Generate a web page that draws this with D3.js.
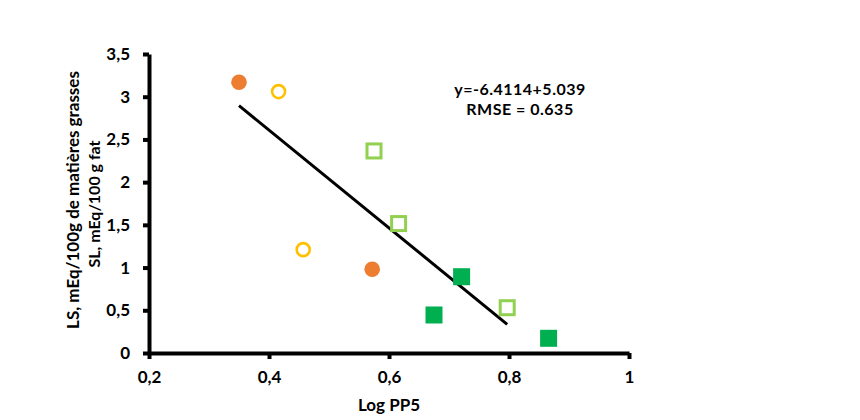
<!DOCTYPE html>
<html>
<head>
<meta charset="utf-8">
<script src="https://cdn.jsdelivr.net/npm/d3@7"></script>
<style>
  body { margin: 0; background: #fff; }
  svg { font-family: Lato, "Open Sans", sans-serif; font-weight: bold; }
</style>
</head>
<body>
<svg id="chart" width="860" height="420"></svg>
<script>
// points: [logPP5, SL]
const orangeFilled = [[0.350, 3.17], [0.572, 0.98]]
const yellowOpen = [[0.416, 3.06], [0.457, 1.21]]
const greenOpen = [[0.575, 2.365], [0.616, 1.515], [0.797, 0.53]]
const greenFilled = [[0.721, 0.893], [0.675, 0.445], [0.866, 0.172]]
const fitLine = [[0.350, 2.895], [0.797, 0.336]]

const xTicks = [0.2, 0.4, 0.6, 0.8, 1]
const yTicks = [0, 0.5, 1, 1.5, 2, 2.5, 3, 3.5]

const svg = d3.select("#chart")
const x = d3.scaleLinear().domain([0.2, 1]).range([149, 629])
const y = d3.scaleLinear().domain([0, 3.5]).range([353, 54])

const fmt = d => String(d).replace(".", ",")

// axes
const xAxis = svg.append("g").attr("transform", `translate(0,${y(0)})`)
    .call(d3.axisBottom(x).tickValues(xTicks).tickFormat(fmt).tickSize(6).tickSizeOuter(0).tickPadding(12))
const yAxis = svg.append("g").attr("transform", `translate(${x(0.2)},0)`)
    .call(d3.axisLeft(y).tickValues(yTicks).tickFormat(fmt).tickSize(6).tickSizeOuter(0).tickPadding(13))

for (const ax of [xAxis, yAxis]) {
    ax.select(".domain").attr("stroke", "#000").attr("stroke-width", 4)
    ax.selectAll(".tick line").attr("stroke", "#000").attr("stroke-width", 4)
    ax.selectAll(".tick text").attr("fill", "#000").style("font-size", "17px").style("font-weight", "bold")
        .style("font-family", "Lato, 'Open Sans', sans-serif")
}

// trend line
svg.append("line")
    .attr("x1", x(fitLine[0][0])).attr("y1", y(fitLine[0][1]))
    .attr("x2", x(fitLine[1][0])).attr("y2", y(fitLine[1][1]))
    .attr("stroke", "#000").attr("stroke-width", 3)

// markers
svg.selectAll(".of").data(orangeFilled).enter().append("circle")
    .attr("cx", d => x(d[0])).attr("cy", d => y(d[1])).attr("r", 7.8)
    .attr("fill", "#ED7D31")

svg.selectAll(".yo").data(yellowOpen).enter().append("circle")
    .attr("cx", d => x(d[0])).attr("cy", d => y(d[1])).attr("r", 6.5)
    .attr("fill", "#fff").attr("stroke", "#FFC000").attr("stroke-width", 2.6)

svg.selectAll(".go").data(greenOpen).enter().append("rect")
    .attr("x", d => x(d[0]) - 7).attr("y", d => y(d[1]) - 7)
    .attr("width", 14).attr("height", 14)
    .attr("fill", "#fff").attr("stroke", "#92D050").attr("stroke-width", 3)

svg.selectAll(".gf").data(greenFilled).enter().append("rect")
    .attr("x", d => x(d[0]) - 8.5).attr("y", d => y(d[1]) - 8.5)
    .attr("width", 17).attr("height", 17)
    .attr("fill", "#00B050")

// annotation
svg.append("text").attr("x", 520).attr("y", 95).attr("text-anchor", "middle")
    .style("font-size", "16px").style("letter-spacing", "0.5px").text("y=-6.4114+5.039")
svg.append("text").attr("x", 520).attr("y", 115).attr("text-anchor", "middle")
    .style("font-size", "16px").style("letter-spacing", "0.5px").text("RMSE = 0.635")

// axis titles
svg.append("text").attr("x", 389).attr("y", 411).attr("text-anchor", "middle")
    .style("font-size", "17px").text("Log PP5")
svg.append("text").attr("transform", "translate(79,200) rotate(-90)").attr("text-anchor", "middle")
    .style("font-size", "17px").text("LS, mEq/100g de matières grasses")
svg.append("text").attr("transform", "translate(100,204) rotate(-90)").attr("text-anchor", "middle")
    .style("font-size", "16px").text("SL, mEq/100 g fat")
</script>
</body>
</html>
